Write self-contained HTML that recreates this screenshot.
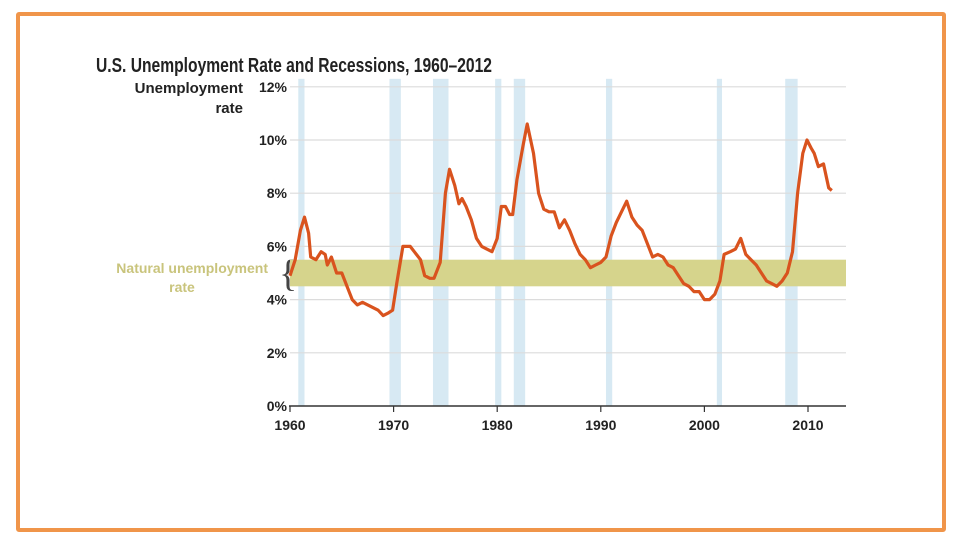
<!DOCTYPE html>
<html><head><meta charset="utf-8"><style>
body{margin:0;background:#fff;width:960px;height:540px;overflow:hidden;font-family:"Liberation Sans",sans-serif}
#frame{position:absolute;left:16px;top:12px;width:922px;height:512px;border:4px solid #f0954a;border-radius:3px}
</style></head><body>
<div id="frame"></div>
<svg id="chart" width="960" height="540" style="position:absolute;left:0;top:0">
<text x="96" y="72" font-size="20" font-weight="bold" fill="#222" textLength="396" lengthAdjust="spacingAndGlyphs">U.S. Unemployment Rate and Recessions, 1960–2012</text>
<text x="243" y="93" font-size="15" font-weight="bold" fill="#222" text-anchor="end">Unemployment</text>
<text x="243" y="113" font-size="15" font-weight="bold" fill="#222" text-anchor="end">rate</text>
<text x="268" y="273" font-size="14" font-weight="bold" fill="#c9c47c" text-anchor="end">Natural unemployment</text>
<text x="182" y="292" font-size="14" font-weight="bold" fill="#c9c47c" text-anchor="middle">rate</text>
<text x="279" y="286" font-size="38" fill="#444" font-family="Liberation Serif">{</text>
<g id="g"></g>
</svg>
<script>
const recessions=[[1960.8,1961.4],[1969.6,1970.7],[1973.8,1975.3],[1979.8,1980.4],[1981.6,1982.7],[1990.5,1991.1],[2001.2,2001.7],[2007.8,2009.0]];
const yTicks=[0,2,4,6,8,10,12];
const xTicks=[1960,1970,1980,1990,2000,2010];
const naturalBand=[4.5,5.5];
const years=[1960.0,1960.5,1961.0,1961.4,1961.8,1962.0,1962.5,1963.0,1963.4,1963.6,1964.0,1964.5,1965.0,1965.5,1966.0,1966.5,1967.0,1967.5,1968.0,1968.5,1969.0,1969.5,1969.9,1970.3,1970.9,1971.3,1971.6,1972.0,1972.6,1973.0,1973.5,1973.9,1974.5,1975.0,1975.4,1975.9,1976.3,1976.6,1977.0,1977.5,1978.0,1978.5,1979.0,1979.5,1980.0,1980.4,1980.8,1981.2,1981.5,1981.9,1982.5,1982.9,1983.5,1984.0,1984.5,1985.0,1985.5,1986.0,1986.5,1987.0,1987.5,1988.0,1988.5,1989.0,1989.5,1990.0,1990.5,1991.0,1991.5,1992.0,1992.5,1993.0,1993.5,1994.0,1994.5,1995.0,1995.5,1996.0,1996.5,1997.0,1997.5,1998.0,1998.5,1999.0,1999.5,2000.0,2000.5,2001.0,2001.5,2001.9,2002.5,2003.0,2003.5,2004.0,2004.5,2005.0,2005.5,2006.0,2006.5,2007.0,2007.5,2008.0,2008.5,2009.0,2009.5,2009.9,2010.3,2010.6,2011.0,2011.5,2012.0,2012.3];
const rates=[4.9,5.5,6.6,7.1,6.5,5.6,5.5,5.8,5.7,5.3,5.6,5.0,5.0,4.5,4.0,3.8,3.9,3.8,3.7,3.6,3.4,3.5,3.6,4.6,6.0,6.0,6.0,5.8,5.5,4.9,4.8,4.8,5.4,8.0,8.9,8.3,7.6,7.8,7.5,7.0,6.3,6.0,5.9,5.8,6.3,7.5,7.5,7.2,7.2,8.5,9.8,10.6,9.5,8.0,7.4,7.3,7.3,6.7,7.0,6.6,6.1,5.7,5.5,5.2,5.3,5.4,5.6,6.4,6.9,7.3,7.7,7.1,6.8,6.6,6.1,5.6,5.7,5.6,5.3,5.2,4.9,4.6,4.5,4.3,4.3,4.0,4.0,4.2,4.7,5.7,5.8,5.9,6.3,5.7,5.5,5.3,5.0,4.7,4.6,4.5,4.7,5.0,5.8,8.0,9.5,10.0,9.7,9.5,9.0,9.1,8.2,8.1];
const X=y=>290+(y-1960)*10.36;
const Y=v=>406-v*26.6;
const NS="http://www.w3.org/2000/svg";
const g=document.getElementById('g');
function mk(t,a){const e=document.createElementNS(NS,t);for(const k in a)e.setAttribute(k,a[k]);g.appendChild(e);return e;}
recessions.forEach(r=>{const e=mk('rect',{x:X(r[0]),y:Y(12.3),width:X(r[1])-X(r[0]),height:Y(0)-Y(12.3),fill:'#d7e9f3'});

});
yTicks.forEach(v=>{if(v>0){const l=mk('line',{x1:290,x2:846,y1:Y(v),y2:Y(v),stroke:'#dcdcdc','stroke-width':1.2});

}
const t=mk('text',{x:287,y:Y(v)+5,'font-size':14,'font-weight':'bold',fill:'#222','text-anchor':'end'});t.textContent=v+'%';

});
const band=mk('rect',{x:290,y:Y(naturalBand[1]),width:556,height:Y(naturalBand[0])-Y(naturalBand[1]),fill:'#d6d48c'});


const ax=mk('line',{x1:289,x2:846,y1:Y(0),y2:Y(0),stroke:'#333','stroke-width':1.5});


xTicks.forEach(v=>{const tk=mk('line',{x1:X(v),x2:X(v),y1:Y(0),y2:Y(0)+6,stroke:'#333','stroke-width':1.2});


const t=mk('text',{x:X(v),y:430,'font-size':14,'font-weight':'bold',fill:'#222','text-anchor':'middle'});t.textContent=v;

});
let d='';years.forEach((y,i)=>{d+=(i?'L':'M')+X(y).toFixed(1)+','+Y(rates[i]).toFixed(1);});
const p=mk('path',{d:d,fill:'none',stroke:'#d9531e','stroke-width':3.2,'stroke-linejoin':'round'});


</script>
</body></html>
